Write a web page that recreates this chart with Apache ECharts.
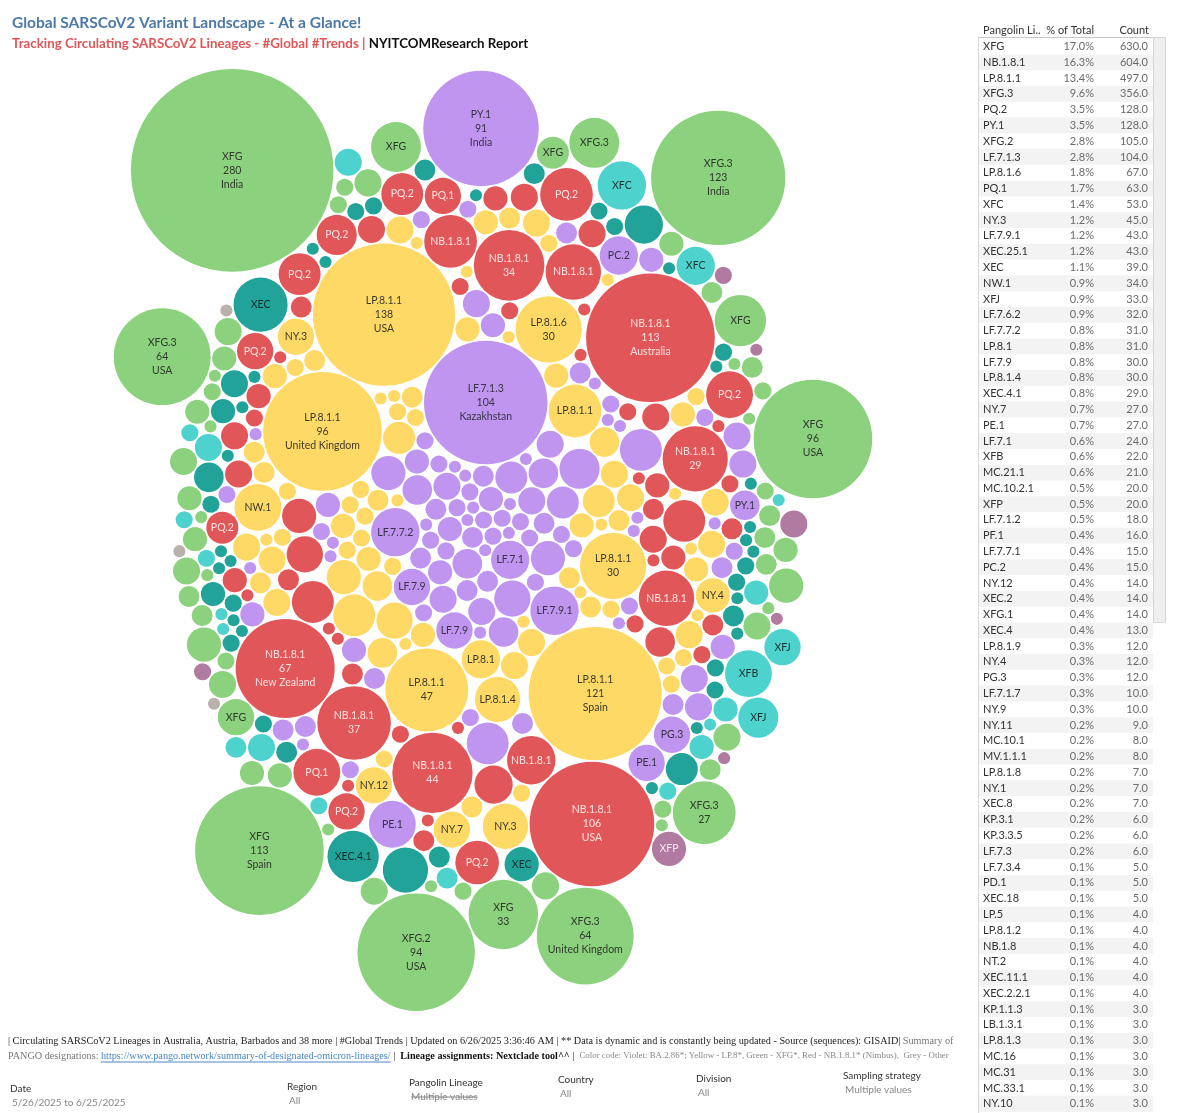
<!DOCTYPE html>
<html><head><meta charset="utf-8">
<script src="https://cdn.jsdelivr.net/npm/echarts@6/dist/echarts.min.js"></script>
<style>html,body{margin:0;padding:0;background:#fff}#chart{width:1200px;height:1113px}</style>
</head><body><div id="chart"></div>
<script>
// ================= DATA =================
const titleText = 'Global SARSCoV2 Variant Landscape - At a Glance!';
const subtitleRed = 'Tracking Circulating SARSCoV2 Lineages - #Global #Trends';
const subtitleBlack = 'NYITCOMResearch Report';

// Bubbles: one entry per lineage (alphabetical = layout order), counts per country (country order)
const lineageNames = ['KP.1.1.3','KP.3.1','KP.3.3.5','LB.1.3.1','LF.7.1','LF.7.1.2','LF.7.1.3','LF.7.1.7','LF.7.3','LF.7.3.4','LF.7.6.2','LF.7.7.1','LF.7.7.2','LF.7.9','LF.7.9.1','LP.5','LP.8.1','LP.8.1.1','LP.8.1.2','LP.8.1.3','LP.8.1.4','LP.8.1.6','LP.8.1.8','LP.8.1.9','MC.10.1','MC.10.2.1','MC.16','MC.21.1','MC.31','MC.33.1','MV.1.1.1','NB.1.8','NB.1.8.1','NT.2','NW.1','NY.1','NY.10','NY.11','NY.12','NY.3','NY.4','NY.7','NY.9','PC.2','PD.1','PE.1','PF.1','PG.3','PQ.1','PQ.2','PY.1','XEC','XEC.11.1','XEC.18','XEC.2','XEC.2.2.1','XEC.25.1','XEC.4','XEC.4.1','XEC.8','XFB','XFC','XFG','XFG.1','XFG.2','XFG.3','XFJ','XFP','Other'];
const lineageCountryCounts = [
  [2,1],[3,2,1],[4,2],[2,1],[2,10,1,6,4,1],[3,7,2,5,1],[104],[5,3,2],[3,2,1],[3,2],
  [4,9,3,8,2,6],[6,1,5,3],[5,16,2,7,1],[4,9,2,9,6],[5,16,2,11,1,8],[2,2],
  [4,10,3,7,2,5],
  [4,19,3,30,9,47,7,2,5,6,4,3,2,1,121,96,138],
  [2,1,1],[2,1],[3,14,2,6,1,4],[5,30,3,12,2,8,1,6],[4,2,1],[5,4,2,1],
  [4,3,1],[4,12,2,1,1],[2,1],[3,12,4,1,1],[2,1],[3],[5,2,1],
  [2,1,1],
  [113,5,44,2,12,34,3,21,9,1,37,4,16,2,67,8,12,3,21,1,29,5,10,2,19,6,4,1,3,2,106,1,1],
  [2,2],[5,15,3,5,4,2],[4,2,1],[2,1],[5,3,1],[3,9,2],[2,14,5,1,9,4,5,3,2],[2,8,1,1],[5,9,3,4,5,1],[5,3,2],
  [3,10,2],[3,2],[15,3,9],[5,4,3,2,1,1],[2,9,1],
  [5,15,4,3,2,5,1,3,9,2,4,1,5,3,1],
  [19,5,15,2,13,4,12,1,12,3,11,5,9,1,9,7],
  [2,91,5,6,4,3,5,1,5,4,2],
  [2,20,1,3,1,8,2,1,1],[2,1,1],[3,2],[5,3,2,2,1,1],[2,1,1],[2,14,1,10,1,7,4,2,1,1],[6,3,2,1,1],[2,18,1,4,2,1,1],[3,2,1,1],
  [4,15,2,1],[5,16,4,3,10,5,2,4,2,1,1],
  [5,33,4,3,2,5,9,1,280,18,113,96,4,3,17,2,5,7,1,4,2,3,5,1,4,2,1],
  [3,8,2,1],[5,3,2,1,94],
  [5,27,4,3,123,2,17,5,1,4,8,3,5,4,2,1,3,64,4,5,1,64,1],
  [3,11,2,5,9,2,1],[8,5,2,2,1,1,1],[1,1,1]
];
// Bubbles large enough to show their country
const countryLineage = ['XFG','XFG','XFG','LF.7.1.3','LP.8.1.1','LP.8.1.1','LP.8.1.1','NB.1.8.1','NB.1.8.1','NB.1.8.1','PY.1','XFG.2','XFG.3','XFG.3','XFG.3'];
const countryCount   = [280,113,96,104,138,121,96,113,106,67,91,94,123,64,64];
const countryName    = ['India','Spain','USA','Kazakhstan','USA','Spain','United Kingdom','Australia','USA','New Zealand','India','USA','India','United Kingdom','USA'];

// Side table
const tableHeaders = ['Pangolin Li..','% of Total','Count'];
const tableLineages = ['XFG','NB.1.8.1','LP.8.1.1','XFG.3','PQ.2','PY.1','XFG.2','LF.7.1.3','LP.8.1.6','PQ.1','XFC','NY.3','LF.7.9.1','XEC.25.1','XEC','NW.1','XFJ','LF.7.6.2','LF.7.7.2','LP.8.1','LF.7.9','LP.8.1.4','XEC.4.1','NY.7','PE.1','LF.7.1','XFB','MC.21.1','MC.10.2.1','XFP','LF.7.1.2','PF.1','LF.7.7.1','PC.2','NY.12','XEC.2','XFG.1','XEC.4','LP.8.1.9','NY.4','PG.3','LF.7.1.7','NY.9','NY.11','MC.10.1','MV.1.1.1','LP.8.1.8','NY.1','XEC.8','KP.3.1','KP.3.3.5','LF.7.3','LF.7.3.4','PD.1','XEC.18','LP.5','LP.8.1.2','NB.1.8','NT.2','XEC.11.1','XEC.2.2.1','KP.1.1.3','LB.1.3.1','LP.8.1.3','MC.16','MC.31','MC.33.1','NY.10'];
const tableCounts = [630,604,497,356,128,128,105,104,67,63,53,45,43,43,39,34,33,32,31,31,30,30,29,27,27,24,22,21,20,20,18,16,15,15,14,14,14,13,12,12,12,10,10,9,8,8,7,7,7,6,6,6,5,5,5,4,4,4,4,4,4,3,3,3,3,3,3,3];
const grandTotal = 3705;

// Footer
const footerLine1 = '| Circulating SARSCoV2 Lineages in Australia, Austria, Barbados and 38 more | #Global Trends | Updated on 6/26/2025 3:36:46 AM | ** Data is dynamic and is constantly being updated - Source (sequences): GISAID|';
const footerLine1b = ' Summary of';
const footerLine2a = 'PANGO designations: ';
const footerLink = 'https://www.pango.network/summary-of-designated-omicron-lineages/';
const footerLine2b = ' |  ';
const footerBold = 'Lineage assignments: Nextclade tool^^';
const footerLine2c = ' |  ';
const footerColor = 'Color code: Violet: BA.2.86*; Yellow - LP.8*, Green - XFG*, Red - NB.1.8.1* (Nimbus),  Grey - Other';
const filterLabels = ['Date','Region','Pangolin Lineage','Country','Division','Sampling strategy'];
const filterValues = ['5/26/2025 to 6/25/2025','All','Multiple values','All','All','Multiple values'];

// ================= STYLE =================
const FONT = 'Lato';
const COLORS = {purple:'#BF95EF', yellow:'#FFD966', red:'#E15759', green:'#8CD17D', tealLight:'#4DD2CD', tealDark:'#22A39A', mauve:'#B07AA1', grey:'#BAB0AC'};
const LABEL_COLORS = {purple:'#3a3348', yellow:'#3d3a2e', red:'#FBE0E0', green:'#2f3a2c', tealLight:'#1f3433', tealDark:'#16302d', mauve:'#F6E6F0', grey:'#333'};
function family(l){
  if (l === 'Other') return 'grey';
  if (l.startsWith('XFG')) return 'green';
  if (l.startsWith('NB.') || l.startsWith('PQ.')) return 'red';
  if (l.startsWith('LP.8') || l.startsWith('NY.') || l.startsWith('NW.') || l.startsWith('NT.')) return 'yellow';
  if (l.startsWith('XEC')) return 'tealDark';
  if (l === 'XFC' || l === 'XFJ' || l === 'XFB') return 'tealLight';
  if (l === 'XFP') return 'mauve';
  return 'purple';
}
const cv = document.createElement('canvas').getContext('2d');
function measure(t, font){ cv.font = font; return cv.measureText(t).width; }

// ================= PACK LAYOUT (greedy: each bubble at the free spot nearest the centre) =================
const K = 6.27, PAD = 0.8, EY = 0.77, MIRROR = -1;
const circles = [];
lineageNames.forEach((l, i) => {
  const used = {};
  lineageCountryCounts[i].forEach(v => {
    let country = '';
    for (let j = 0; j < countryLineage.length; j++) {
      if (!used[j] && countryLineage[j] === l && countryCount[j] === v) { country = countryName[j]; used[j] = true; break; }
    }
    circles.push({lineage: l, count: v, country, r: K * Math.sqrt(v) + PAD, x: 0, y: 0});
  });
});
function greedyPack(cs){
  const placed = [];
  cs[0].x = 0; cs[0].y = 0; placed.push(cs[0]);
  if (cs.length > 1) { cs[1].x = cs[0].r + cs[1].r; cs[1].y = 0; placed.push(cs[1]); }
  for (let i = 2; i < cs.length; i++) {
    const c = cs[i], m = placed.length;
    const nb = []; for (let p = 0; p < m; p++) nb.push([]);
    const cx = [], cy = [], cs2 = [], ca = [];
    for (let p = 0; p < m; p++) {
      const a = placed[p], ra = a.r + c.r;
      for (let q = p + 1; q < m; q++) {
        const b = placed[q], rb = b.r + c.r;
        const dx = b.x - a.x, dy = b.y - a.y, d2 = dx*dx + dy*dy, sum = ra + rb;
        if (d2 > sum*sum) continue;
        nb[p].push(q); nb[q].push(p);
        const d = Math.sqrt(d2);
        if (d === 0 || d < Math.abs(ra - rb)) continue;
        const l = (ra*ra - rb*rb + d2)/(2*d), h = Math.sqrt(Math.max(0, ra*ra - l*l));
        const ux = dx/d, uy = dy/d, px = a.x + ux*l, py = a.y + uy*l;
        const x1 = px - uy*h, y1 = py + ux*h, x2 = px + uy*h, y2 = py - ux*h;
        cx.push(x1); cy.push(y1); cs2.push(x1*x1 + (y1*EY)*(y1*EY)); ca.push(p);
        cx.push(x2); cy.push(y2); cs2.push(x2*x2 + (y2*EY)*(y2*EY)); ca.push(p);
      }
    }
    const idx = cs2.map((_, t) => t).sort((u, v) => cs2[u] - cs2[v]);
    let done = false;
    for (const t of idx) {
      const x = cx[t], y = cy[t], list = nb[ca[t]];
      let free = true;
      for (let k = 0; k < list.length; k++) {
        const o = placed[list[k]], rr = o.r + c.r - 1e-6, ex = o.x - x, ey = o.y - y;
        if (ex*ex + ey*ey < rr*rr) { free = false; break; }
      }
      if (free) { c.x = x; c.y = y; done = true; break; }
    }
    if (!done) { c.x = 0; c.y = -1e4; }
    placed.push(c);
  }
}
greedyPack(circles);

// fit into the bubble area
const BOX = {x0: 115, x1: 875, y0: 58, y1: 1022};
let minX = Infinity, maxX = -Infinity, minY = Infinity, maxY = -Infinity;
circles.forEach(c => { minX = Math.min(minX, c.x - c.r); maxX = Math.max(maxX, c.x + c.r); minY = Math.min(minY, c.y - c.r); maxY = Math.max(maxY, c.y + c.r); });
const S = Math.min(1, (BOX.x1 - BOX.x0)/(maxX - minX), (BOX.y1 - BOX.y0)/(maxY - minY));
const cxL = (minX + maxX)/2, cyL = (minY + maxY)/2, cxB = 493, cyB = (BOX.y0 + BOX.y1)/2;

const LSIZE = 10.5, LFONT = LSIZE + 'px ' + FONT, LH = 14;
function labelText(c, r){
  const lines = [c.lineage, String(c.count)];
  if (c.country) lines.push(c.country);
  for (let m = lines.length; m >= 1; m--) {
    const h = m*LH;
    if (h > 0.95*r) continue;
    const chord = 2*Math.sqrt(Math.max(0, r*r - h*h/4)) - 4;
    let ok = true;
    for (let t = 0; t < m; t++) if (measure(lines[t], LFONT) > chord) ok = false;
    if (ok) return lines.slice(0, m).join('\n');
  }
  return '';
}
const bubbleData = circles.map(c => {
  const r = K*Math.sqrt(c.count)*S;
  const f = family(c.lineage);
  const txt = labelText(c, r);
  return {
    name: c.lineage,
    value: [cxB + MIRROR*(c.x - cxL)*S, cyB + (c.y - cyL)*S, 2*r, c.count],
    itemStyle: {color: COLORS[f], opacity: 1},
    label: {show: !!txt, formatter: txt || '', color: LABEL_COLORS[f]}
  };
});

// ================= GRAPHIC (titles, table, footer) =================
const g = [];
g.push({type:'text', left: 12, top: 15, style:{text: titleText, fill:'#4E79A7', font:'bold 15.5px ' + FONT}});
g.push({type:'text', left: 12, top: 37, style:{
  text: '{r|' + subtitleRed + ' | }{k|' + subtitleBlack + '}',
  rich: {r:{fill:'#E15759', font:'bold 13.3px ' + FONT}, k:{fill:'#111', font:'bold 13.3px ' + FONT}}}});

// table
const TX0 = 978, TX1 = 1153, ROW0 = 46.5, RH = 15.78;
tableLineages.forEach((l, i) => {
  const cy = ROW0 + i*RH;
  if (i % 2 === 1) g.push({type:'rect', shape:{x: TX0 + 1, y: cy - RH/2, width: TX1 - TX0 - 1, height: RH}, style:{fill:'#F3F3F3'}, silent:true});
});
g.push({type:'line', shape:{x1: TX0, y1: 37.5, x2: TX1, y2: 37.5}, style:{stroke:'#C8C8C8', lineWidth:1}});
g.push({type:'line', shape:{x1: TX0 + 0.5, y1: 37.5, x2: TX0 + 0.5, y2: 1113}, style:{stroke:'#D8D8D8', lineWidth:1}});
g.push({type:'rect', shape:{x: 1153.5, y: 37.5, width: 12, height: 585}, style:{fill:'#EFEFEF', stroke:'#D6D6D6', lineWidth:1}});
g.push({type:'text', x: 983, y: 30, style:{text: tableHeaders[0], fill:'#333', font:'11px ' + FONT, verticalAlign:'middle'}});
g.push({type:'text', x: 1094, y: 30, style:{text: tableHeaders[1], fill:'#333', font:'11px ' + FONT, align:'right', verticalAlign:'middle'}});
g.push({type:'text', x: 1149, y: 30, style:{text: tableHeaders[2], fill:'#333', font:'11px ' + FONT, align:'right', verticalAlign:'middle'}});
tableLineages.forEach((l, i) => {
  const cy = ROW0 + i*RH;
  g.push({type:'text', x: 983, y: cy, style:{text: l, fill:'#333', font:'11px ' + FONT, verticalAlign:'middle'}});
  g.push({type:'text', x: 1094, y: cy, style:{text: (tableCounts[i]/grandTotal*100).toFixed(1) + '%', fill:'#6b6b6b', font:'11px ' + FONT, align:'right', verticalAlign:'middle'}});
  g.push({type:'text', x: 1148, y: cy, style:{text: tableCounts[i].toFixed(1), fill:'#6b6b6b', font:'11px ' + FONT, align:'right', verticalAlign:'middle'}});
});

// footer
const SERIF = 'Liberation Serif';
const F1 = '10.2px ' + SERIF;
g.push({type:'text', x: 8, y: 1041, style:{text: '{a|' + footerLine1 + '}{g|' + footerLine1b + '}', verticalAlign:'middle',
  rich:{a:{fill:'#222', font: F1}, g:{fill:'#777', font: F1}}}});
const w2a = measure(footerLine2a, F1), wLink = measure(footerLink, F1);
g.push({type:'text', x: 8, y: 1056, style:{text: '{g|' + footerLine2a + '}{l|' + footerLink + '}{a|' + footerLine2b + '}{b|' + footerBold + '}{a|' + footerLine2c + '}{s|' + footerColor + '}', verticalAlign:'middle',
  rich:{g:{fill:'#777', font:F1}, l:{fill:'#4A86C5', font:F1}, a:{fill:'#222', font:F1}, b:{fill:'#111', font:'bold ' + F1}, s:{fill:'#888', font:'8.9px ' + SERIF}}}});
g.push({type:'line', shape:{x1: 8 + w2a, y1: 1062, x2: 8 + w2a + wLink, y2: 1062}, style:{stroke:'#4A86C5', lineWidth:1}});

const filterX = [10, 287, 409, 558, 696, 843];
const filterY = [1089, 1087, 1083, 1080, 1079, 1076];
filterLabels.forEach((t, i) => {
  g.push({type:'text', x: filterX[i], y: filterY[i], style:{text: t, fill:'#333', font:'10px ' + FONT, verticalAlign:'middle'}});
  g.push({type:'text', x: filterX[i] + 2, y: filterY[i] + 14, style:{text: filterValues[i], fill:'#888', font:'10px ' + FONT, verticalAlign:'middle'}});
});
const wMv = measure(filterValues[2], '10px ' + FONT);
g.push({type:'line', shape:{x1: filterX[2] + 2, y1: filterY[2] + 14, x2: filterX[2] + 2 + wMv, y2: filterY[2] + 14}, style:{stroke:'#888', lineWidth:1}});

// ================= CHART =================
const chart = echarts.init(document.getElementById('chart'), null, {renderer:'canvas'});
chart.setOption({
  animation: false,
  backgroundColor: '#fff',
  grid: {left: 0, right: 0, top: 0, bottom: 0},
  xAxis: {type:'value', min: 0, max: 1200, show: false},
  yAxis: {type:'value', min: 0, max: 1113, inverse: true, show: false},
  series: [{
    type: 'scatter',
    symbol: 'circle',
    symbolSize: v => v[2],
    data: bubbleData,
    silent: true,
    label: {position: 'inside', fontFamily: FONT, fontSize: LSIZE, lineHeight: LH},
    emphasis: {disabled: true}
  }],
  graphic: g
});
</script>
</body></html>
